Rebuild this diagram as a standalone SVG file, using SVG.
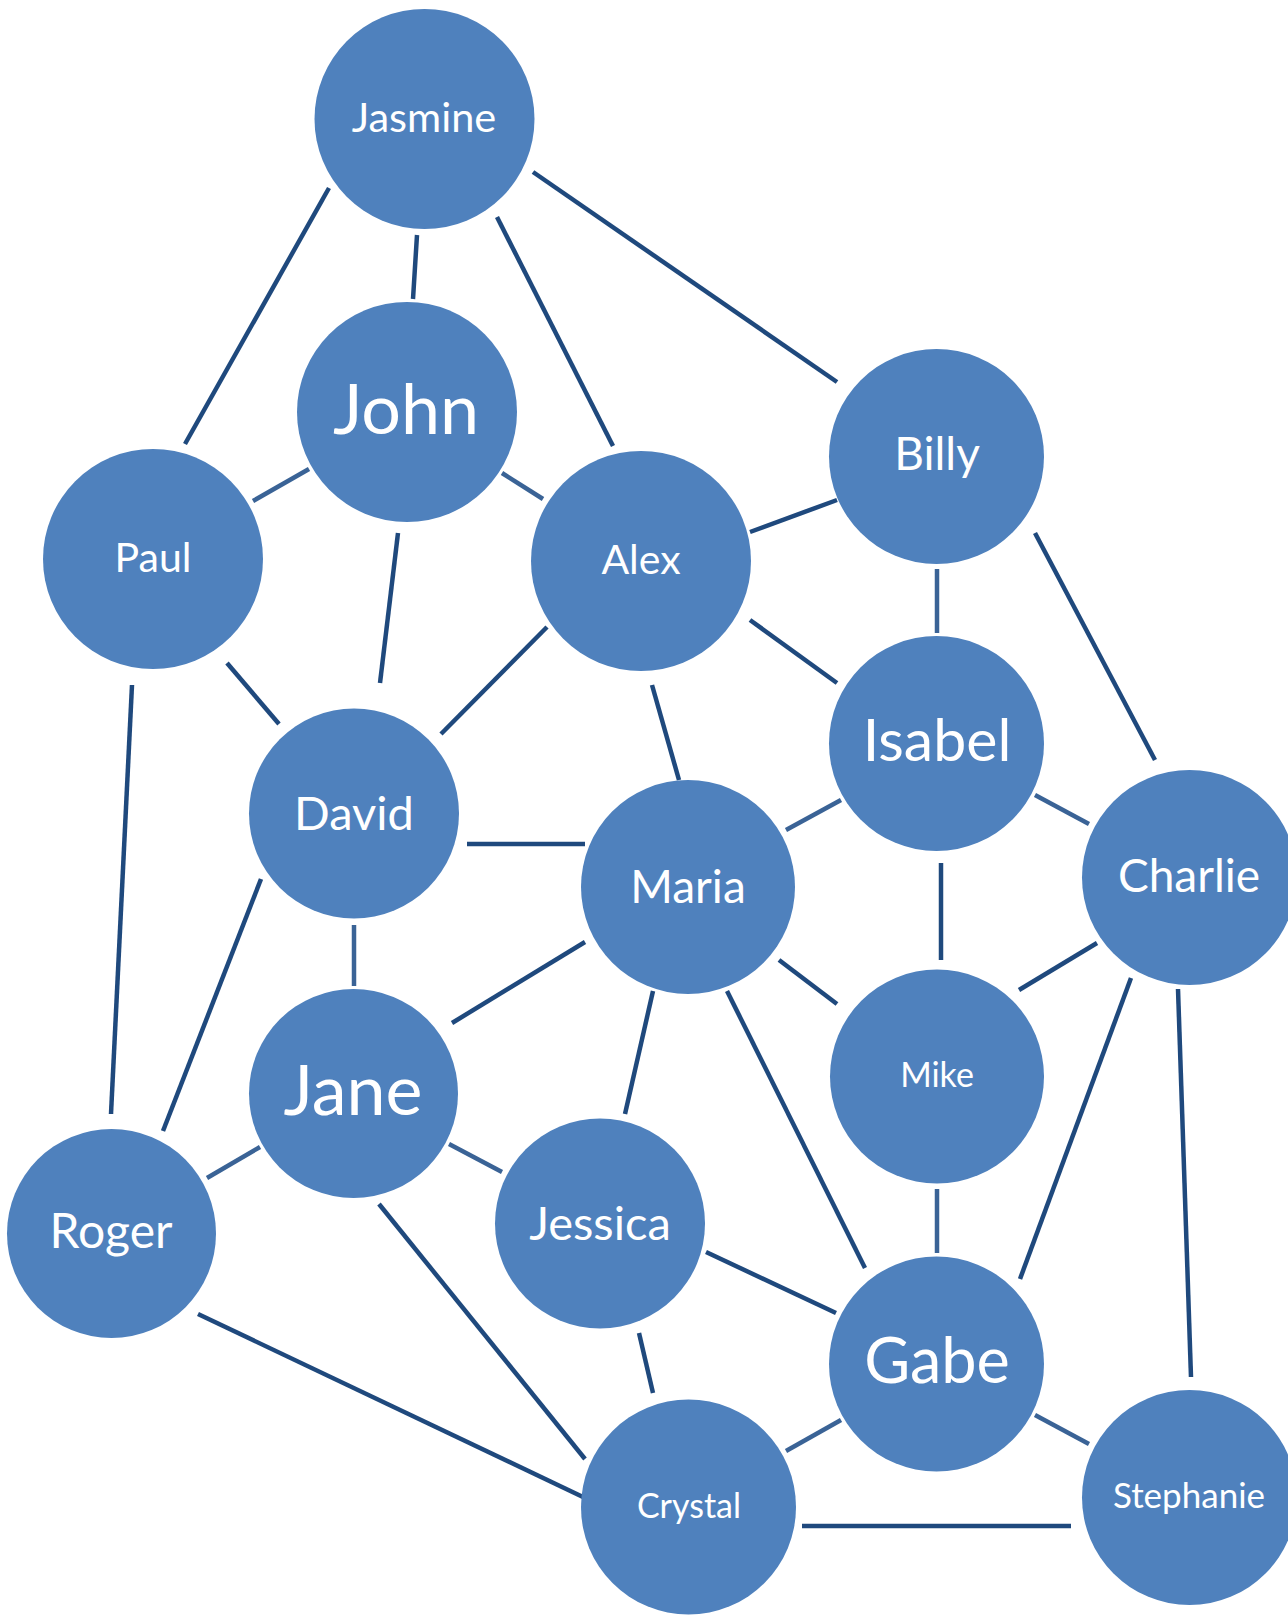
<svg xmlns="http://www.w3.org/2000/svg" width="1288" height="1615" viewBox="0 0 1288 1615">
<style>
.n{fill:#4F81BD}
.t{fill:#FFFFFF;font-family:Lato,"Open Sans","Liberation Sans",sans-serif;text-anchor:middle}
.e line{stroke:#1F497D;stroke-width:4.5;stroke-linecap:butt}
.e line.l{stroke:#3A6396}
</style>
<rect width="1288" height="1615" fill="#FFFFFF"/>
<g class="e" id="connectors">
<line x1="329" y1="188" x2="185" y2="444"/>
<line x1="417" y1="235" x2="413" y2="299"/>
<line x1="497" y1="217" x2="613" y2="446"/>
<line x1="533" y1="172" x2="837" y2="382"/>
<line class="l" x1="309" y1="469" x2="253" y2="501"/>
<line class="l" x1="502" y1="473" x2="543" y2="499"/>
<line x1="398" y1="533" x2="380" y2="683"/>
<line x1="227" y1="663" x2="279" y2="724"/>
<line x1="132" y1="685" x2="111" y2="1114"/>
<line x1="750" y1="532" x2="837" y2="500"/>
<line x1="750" y1="620" x2="837" y2="683"/>
<line x1="547" y1="627" x2="441" y2="734"/>
<line x1="652" y1="685" x2="679" y2="780"/>
<line class="l" x1="937" y1="569" x2="937" y2="633"/>
<line x1="1035" y1="533" x2="1155" y2="760"/>
<line class="l" x1="841" y1="800" x2="786" y2="830"/>
<line class="l" x1="1035" y1="795" x2="1089" y2="824"/>
<line x1="941" y1="863" x2="941" y2="960"/>
<line x1="467" y1="844" x2="585" y2="844"/>
<line class="l" x1="354" y1="925" x2="354" y2="986"/>
<line x1="261" y1="879" x2="163" y2="1131"/>
<line x1="585" y1="942" x2="452" y2="1023"/>
<line x1="779" y1="960" x2="837" y2="1004"/>
<line x1="653" y1="991" x2="625" y2="1114"/>
<line x1="727" y1="991" x2="865" y2="1268"/>
<line x1="1097" y1="943" x2="1019" y2="990"/>
<line x1="1131" y1="978" x2="1020" y2="1279"/>
<line x1="1178" y1="989" x2="1191" y2="1377"/>
<line class="l" x1="937" y1="1189" x2="937" y2="1253"/>
<line class="l" x1="260" y1="1147" x2="207" y2="1178"/>
<line class="l" x1="449" y1="1144" x2="502" y2="1172"/>
<line x1="379" y1="1204" x2="585" y2="1459"/>
<line x1="198" y1="1314" x2="583" y2="1497"/>
<line x1="706" y1="1252" x2="836" y2="1313"/>
<line x1="639" y1="1333" x2="653" y2="1393"/>
<line class="l" x1="841" y1="1420" x2="786" y2="1451"/>
<line class="l" x1="1035" y1="1415" x2="1089" y2="1444"/>
<line x1="802" y1="1526" x2="1071" y2="1526"/>
</g>
<g id="jasmine"><circle class="n" cx="424.5" cy="119" r="110"/><text class="t" x="424" y="132" font-size="41.5">Jasmine</text></g>
<g id="john"><circle class="n" cx="407" cy="412" r="110"/><text class="t" x="406" y="434" font-size="70">John</text></g>
<g id="paul"><circle class="n" cx="153" cy="559" r="110"/><text class="t" x="153" y="572" font-size="41">Paul</text></g>
<g id="alex"><circle class="n" cx="641" cy="561" r="110"/><text class="t" x="641" y="574" font-size="41">Alex</text></g>
<g id="billy"><circle class="n" cx="936.5" cy="456.5" r="107.5"/><text class="t" x="937" y="470" font-size="46">Billy</text></g>
<g id="isabel"><circle class="n" cx="936.5" cy="743.5" r="107.5"/><text class="t" x="937" y="761" font-size="59">Isabel</text></g>
<g id="david"><circle class="n" cx="354" cy="813.5" r="105"/><text class="t" x="354" y="830" font-size="47">David</text></g>
<g id="maria"><circle class="n" cx="688" cy="887" r="107"/><text class="t" x="688" y="903" font-size="46">Maria</text></g>
<g id="charlie"><circle class="n" cx="1189.5" cy="877.5" r="107.5"/><text class="t" x="1189" y="892" font-size="46">Charlie</text></g>
<g id="mike"><circle class="n" cx="937" cy="1076.5" r="107"/><text class="t" x="937" y="1087" font-size="34">Mike</text></g>
<g id="jane"><circle class="n" cx="353.5" cy="1093.5" r="104.5"/><text class="t" x="353" y="1115" font-size="70">Jane</text></g>
<g id="roger"><circle class="n" cx="111.5" cy="1233.5" r="104.5"/><text class="t" x="111" y="1248" font-size="48">Roger</text></g>
<g id="jessica"><circle class="n" cx="600" cy="1223.5" r="105"/><text class="t" x="600" y="1240" font-size="47">Jessica</text></g>
<g id="gabe"><circle class="n" cx="936.5" cy="1364" r="107.5"/><text class="t" x="937" y="1383" font-size="63">Gabe</text></g>
<g id="crystal"><circle class="n" cx="688.5" cy="1507" r="107.5"/><text class="t" x="689" y="1518" font-size="34">Crystal</text></g>
<g id="stephanie"><circle class="n" cx="1189.5" cy="1497.5" r="107.5"/><text class="t" x="1189" y="1508" font-size="35">Stephanie</text></g>
</svg>
